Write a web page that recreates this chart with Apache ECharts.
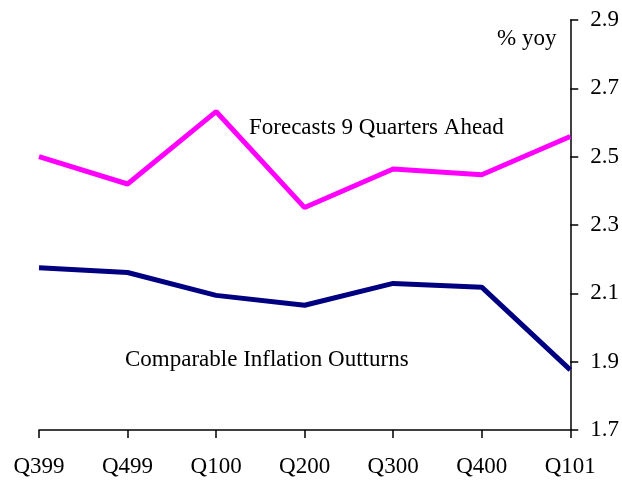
<!DOCTYPE html>
<html><head><meta charset="utf-8">
<script src="https://cdn.jsdelivr.net/npm/echarts@6/dist/echarts.min.js"></script>
<style>html,body{margin:0;padding:0;background:#fff}#c{width:622px;height:480px}</style>
</head><body><div id="c"></div>
<script>
const categories = ['Q399','Q499','Q100','Q200','Q300','Q400','Q101'];
const forecasts = [2.50, 2.42, 2.632, 2.351, 2.464, 2.447, 2.559];
const outturns = [2.175, 2.161, 2.094, 2.065, 2.129, 2.118, 1.876];
const yTicks = [1.7, 1.9, 2.1, 2.3, 2.5, 2.7, 2.9];
const font = 'Liberation Serif';
const chart = echarts.init(document.getElementById('c'));
chart.setOption({
  animation: false,
  grid: {left: 39, right: 51, top: 20, bottom: 50},
  xAxis: {
    type: 'category', data: categories, boundaryGap: false,
    axisLine: {lineStyle: {color: '#000', width: 1.5}},
    axisTick: {alignWithLabel: true, length: 8, lineStyle: {color: '#000', width: 1.5}},
    axisLabel: {color: '#000', fontFamily: font, fontSize: 23, margin: 25},
    splitLine: {show: false}
  },
  yAxis: {
    type: 'value', position: 'right', min: 1.7, max: 2.9, interval: 0.2,
    axisLine: {show: true, lineStyle: {color: '#000', width: 1.5}},
    axisTick: {show: true, length: 8, lineStyle: {color: '#000', width: 1.5}},
    axisLabel: {color: '#000', fontFamily: font, fontSize: 23, margin: 20,
      formatter: v => { const t = yTicks.find(x => Math.abs(x - v) < 1e-6); return t !== undefined ? t.toFixed(1) : ''; }},
    splitLine: {show: false}
  },
  series: [
    {type: 'line', data: forecasts, symbol: 'none', lineStyle: {color: '#FF00FF', width: 5}},
    {type: 'line', data: outturns, symbol: 'none', lineStyle: {color: '#000080', width: 5}}
  ],
  graphic: [
    {type: 'text', left: 249, top: 116, style: {text: 'Forecasts 9 Quarters Ahead', font: '23px "Liberation Serif"', fill: '#000'}},
    {type: 'text', left: 125, top: 348, style: {text: 'Comparable Inflation Outturns', font: '23px "Liberation Serif"', fill: '#000'}},
    {type: 'text', left: 497, top: 27, style: {text: '% yoy', font: '23px "Liberation Serif"', fill: '#000'}}
  ]
});
</script></body></html>
